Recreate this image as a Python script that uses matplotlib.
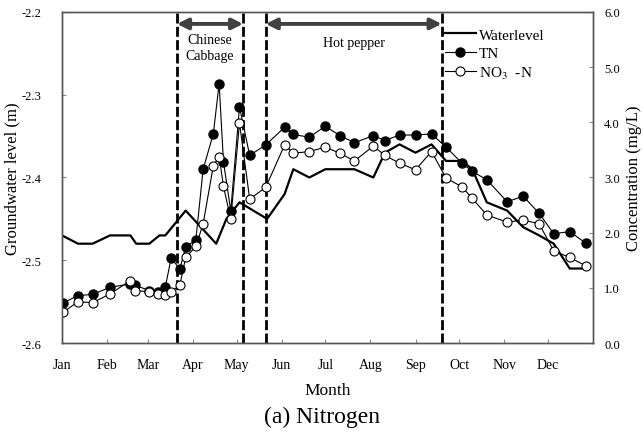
import matplotlib
matplotlib.use("Agg")
import matplotlib.pyplot as plt
from matplotlib.ticker import FormatStrFormatter
from matplotlib.lines import Line2D

plt.rcParams['font.family'] = ['Liberation Serif', 'DejaVu Serif']
plt.rcParams['mathtext.fontset'] = 'stix'
plt.rcParams['axes.unicode_minus'] = False

# month ticks (day of year)
month_days = [0, 31, 59, 90, 120, 151, 181, 212, 243, 273, 304, 334]
month_labels = ['Jan', 'Feb', 'Mar', 'Apr', 'May', 'Jun',
                'Jul', 'Aug', 'Sep', 'Oct', 'Nov', 'Dec']

# sampling days (day of year)
sample_days = [1, 11, 21, 33, 47, 50, 60, 66, 71, 75, 81, 85, 92, 97, 104,
               108, 111, 116, 122, 129, 140, 153, 159, 170, 181, 191, 201,
               214, 222, 232, 243, 254, 264, 275, 282, 292, 306, 317, 328,
               338, 349, 360]

tn = [0.73, 0.86, 0.88, 1.01, 1.07, 1.05, 0.95, 0.93, 1.01, 1.54, 1.34,
      1.74, 1.87, 3.15, 3.79, 4.70, 3.28, 2.40, 4.28, 3.40, 3.59, 3.91,
      3.78, 3.73, 3.93, 3.76, 3.63, 3.76, 3.67, 3.77, 3.77, 3.79, 3.55,
      3.26, 3.11, 2.96, 2.56, 2.66, 2.35, 1.98, 2.02, 1.81]

no3 = [0.56, 0.75, 0.73, 0.89, 1.13, 0.95, 0.93, 0.89, 0.87, 0.93, 1.05,
       1.55, 1.75, 2.16, 3.21, 3.38, 2.84, 2.24, 3.99, 2.61, 2.82, 3.59,
       3.44, 3.47, 3.55, 3.44, 3.30, 3.57, 3.40, 3.26, 3.14, 3.47, 2.99,
       2.83, 2.62, 2.32, 2.19, 2.23, 2.16, 1.67, 1.55, 1.40]

# groundwater level
wl_days = [0, 11, 21, 33, 47, 51, 60, 67, 71, 85, 106, 113, 122, 141, 153,
           159, 170, 181, 201, 214, 222, 232, 243, 254, 264, 275, 282, 292,
           306, 317, 328, 338, 349, 360]
wl_level = [-2.47, -2.48, -2.48, -2.47, -2.47, -2.48, -2.48, -2.47, -2.47,
            -2.44, -2.48, -2.45, -2.43, -2.45, -2.42, -2.39, -2.40, -2.39,
            -2.39, -2.40, -2.37, -2.36, -2.37, -2.36, -2.38, -2.38, -2.39,
            -2.43, -2.44, -2.46, -2.47, -2.48, -2.51, -2.51]

# crop periods
cabbage = (79, 124.5)
pepper = (140, 261)

fig = plt.figure(figsize=(6.44, 4.39), dpi=100)
ax = fig.add_axes([0.0963, 0.2164, 0.8245, 0.754])
ax2 = ax.twinx()

ax.plot(wl_days, wl_level, color='black', lw=1.6, label='Waterlevel')
ax2.plot(sample_days, tn, color='black', lw=0.8, marker='o', ms=6.5,
         mfc='black', mec='black', label='TN')
ax2.plot(sample_days, no3, color='black', lw=0.8, marker='o', ms=6.5,
         mfc='white', mec='black', mew=0.8, label='NO$_3$  -N')

for d in cabbage + pepper:
    ax.axvline(d, color='black', lw=2, ls=(0, (3.6, 1.2)))

# crop arrows
for (x0, x1) in (cabbage, pepper):
    ax.annotate('', xy=(x0, 0.964), xytext=(x1, 0.964),
                xycoords=('data', 'axes fraction'),
                textcoords=('data', 'axes fraction'),
                arrowprops=dict(arrowstyle='<|-|>', color='#404040',
                                lw=2.8, mutation_scale=16,
                                shrinkA=0, shrinkB=0))
ax.text(sum(cabbage) / 2, 0.894, 'Chinese\nCabbage', ha='center', va='center',
        fontsize=10, linespacing=1.3, transform=ax.get_xaxis_transform())
ax.text(sum(pepper) / 2, 0.909, 'Hot pepper', ha='center', va='center',
        fontsize=10, transform=ax.get_xaxis_transform())

ax.set_xlim(0, 365)
ax.set_ylim(-2.6, -2.2)
ax2.set_ylim(0, 6)
ax.set_xticks(month_days)
ax.set_xticklabels(month_labels)
ax.set_yticks([-2.6, -2.5, -2.4, -2.3, -2.2])
ax2.set_yticks([0, 1, 2, 3, 4, 5, 6])
ax.yaxis.set_major_formatter(FormatStrFormatter('%.1f'))
ax2.yaxis.set_major_formatter(FormatStrFormatter('%.1f'))

ax.tick_params(axis='x', direction='in', length=3, pad=11, labelsize=10,
               color='#888888')
ax.tick_params(axis='y', direction='in', length=3, pad=15, labelsize=9,
               color='#888888')
ax2.tick_params(axis='y', direction='in', length=3, pad=8, labelsize=9,
                color='#888888')
for a in (ax, ax2):
    for s in a.spines.values():
        s.set_color('#555555')
        s.set_linewidth(1)

ax.set_ylabel('Groundwater level (m)', fontsize=12, va='center')
ax2.set_ylabel('Concentration (mg/L)', fontsize=12, va='center')
ax.yaxis.set_label_coords(-0.093, 0.5)
ax2.yaxis.set_label_coords(1.078, 0.5)
ax.set_xlabel('Month', fontsize=12.5, labelpad=8)

handles = [Line2D([], [], color='black', lw=1.6),
           Line2D([], [], color='black', lw=0.8, marker='o', ms=6.5,
                  mfc='black', mec='black'),
           Line2D([], [], color='black', lw=0.8, marker='o', ms=6.5,
                  mfc='white', mec='black', mew=0.8)]
ax2.legend(handles, ['Waterlevel', 'TN', 'NO$_3$  -N'], loc='upper left',
           bbox_to_anchor=(0.71, 0.97), frameon=False, fontsize=11,
           handlelength=2.0, handletextpad=0.2, labelspacing=0.3,
           borderaxespad=0)

fig.text(0.5, 0.05, '(a) Nitrogen', ha='center', va='center', fontsize=17)

fig.savefig('out.png', dpi=100)
